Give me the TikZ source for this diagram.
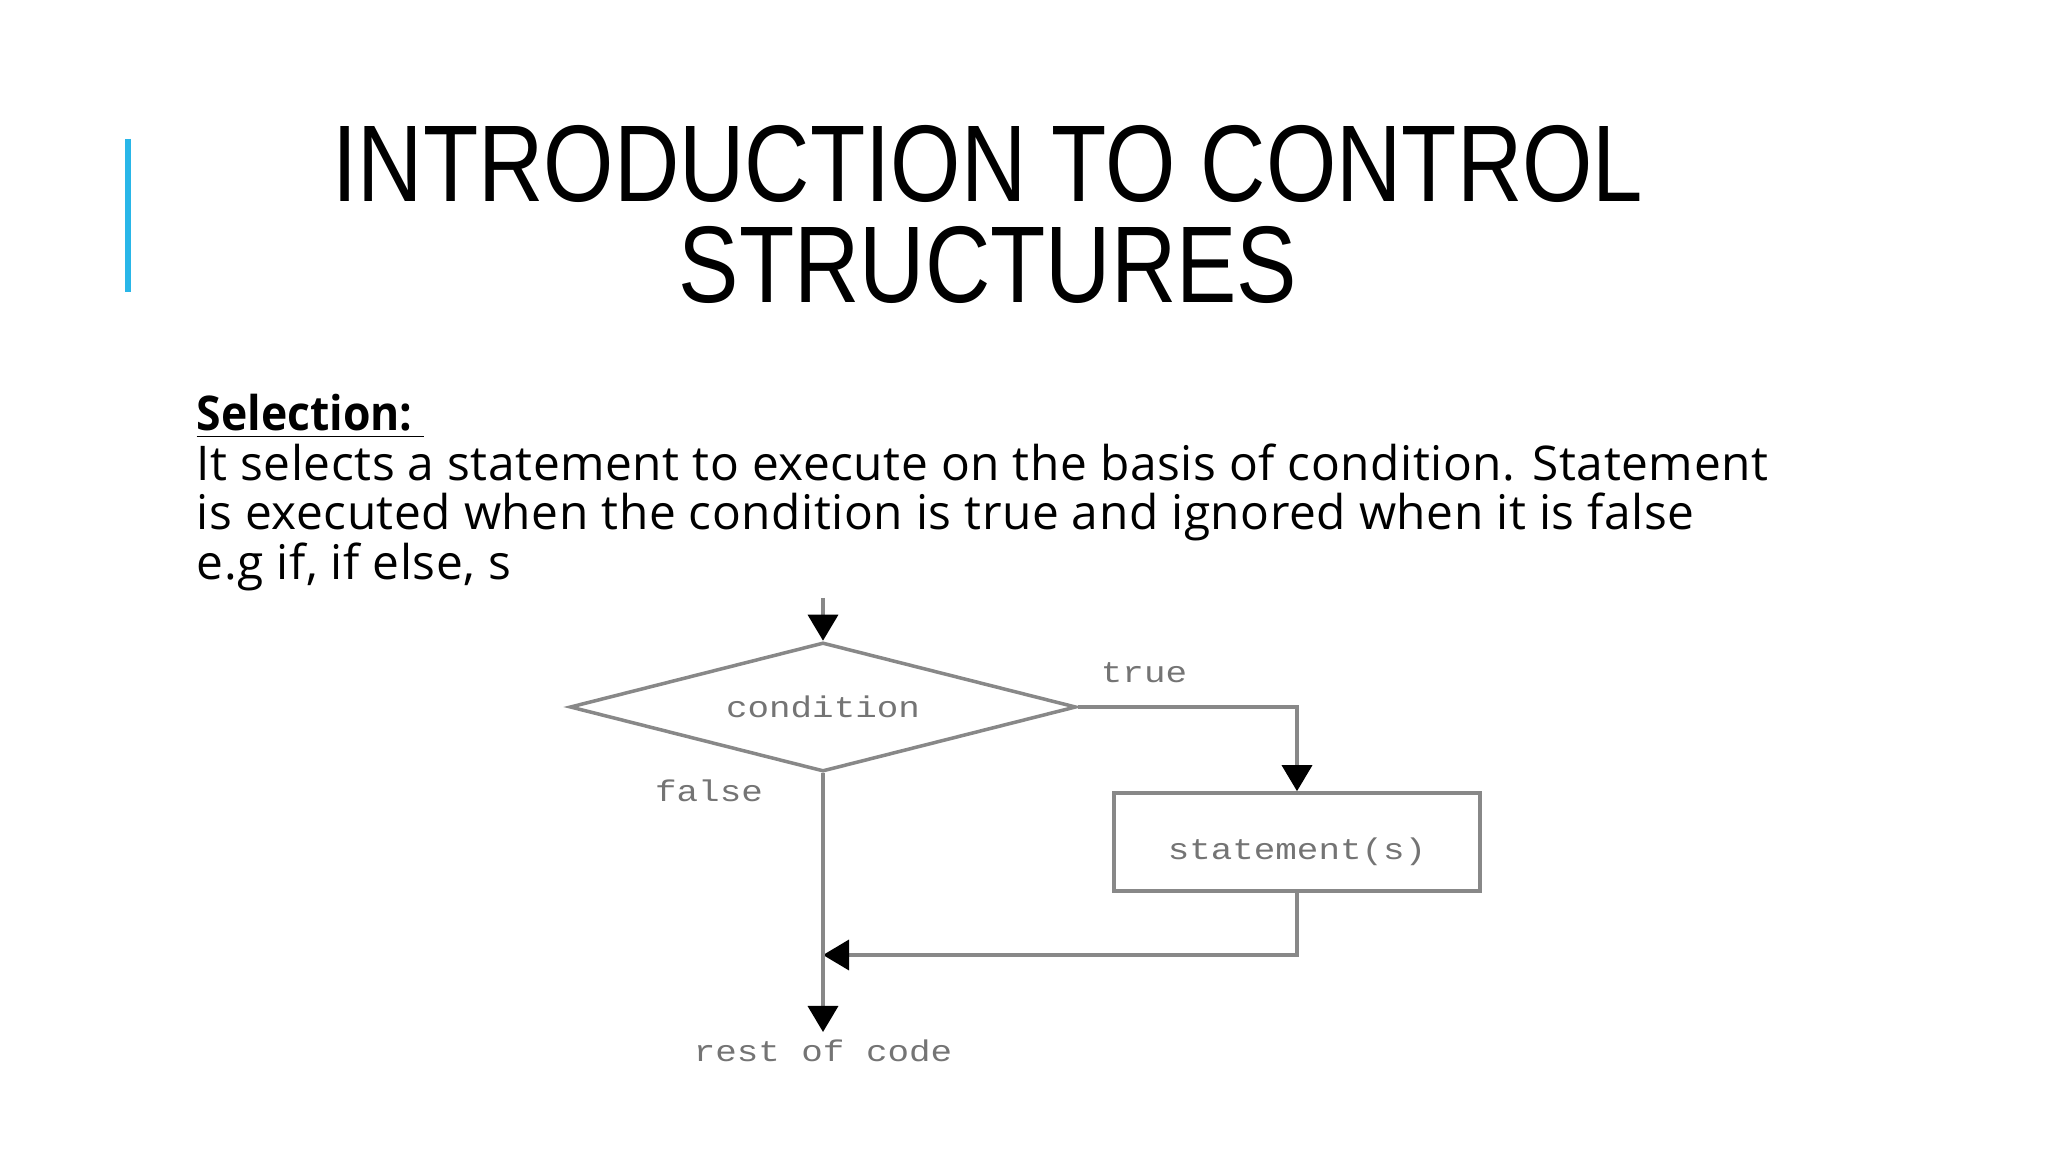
\documentclass[tikz,border=0pt]{standalone}
\usepackage{fontspec}
\usetikzlibrary{shapes.geometric,arrows.meta}
\newfontfamily\titlefont[FakeStretch=0.83]{Liberation Sans}
\newfontfamily\bodyfont[LetterSpace=1.2, BoldFeatures={LetterSpace=0, FakeStretch=0.93}]{Open Sans}
\newfontfamily\flowfont[FakeStretch=1.2]{Liberation Mono}
\definecolor{accentblue}{RGB}{41,182,232}
\definecolor{flowgray}{RGB}{136,136,136}
\begin{document}
\begin{tikzpicture}[x=0.01cm, y=-0.01cm,
    titletext/.style={font=\titlefont\fontsize{31}{31}\selectfont, anchor=base, inner sep=0pt},
    bodytext/.style={font=\bodyfont\fontsize{13.6}{16}\selectfont, anchor=base west, inner sep=0pt},
    flowtext/.style={font=\flowfont\fontsize{8.5}{10}\selectfont, text=flowgray!85!black},
    decision/.style={diamond, draw=flowgray, line width=1pt, minimum width=5.06cm, minimum height=1.29cm, aspect=3.9, inner sep=0pt, flowtext},
    stmtbox/.style={rectangle, draw=flowgray, line width=1pt, minimum width=3.66cm, minimum height=0.98cm, text height=0.4cm, text depth=0.06cm, flowtext},
    flowline/.style={draw=flowgray, line width=1pt},
    >={Triangle[width=3mm, length=2.6mm, color=black]}
  ]
  \fill[white] (0,0) rectangle (2048,1152);
  \useasboundingbox (0,0) rectangle (2048,1152);
  \draw[accentblue, line width=1.6pt] (128,139) -- (128,292);
  % title
  \node[titletext] (title1) at (988,202) {INTRODUCTION TO CONTROL};
  \node[titletext] (title2) at (988,303) {STRUCTURES};
  % text
  \node[bodytext] (sel) at (196,431) {\bfseries\underline{Selection:\ }};
  \node[bodytext] (line1) at (196,481) {It selects a statement to execute on the basis of condition. Statement};
  \node[bodytext] (line2) at (196,530) {is executed when the condition is true and ignored when it is false};
  \node[bodytext] (line3) at (196,580) {e.g if, if else, s};
  % flowchart
  \coordinate (entry) at (823,598);
  \node[decision] (cond) at (823,707) {condition};
  \node[stmtbox] (stmt) at (1297,842) {statement(s)};
  \coordinate (join) at (823,955);
  \coordinate (exit) at (823,1032);
  \node[flowtext] (rest) at (823,1051) {rest of code};
  \node[flowtext] (truelbl) at (1144,673) {true};
  \node[flowtext] (falselbl) at (709,791) {false};
  \draw[flowline, ->] (entry) -- (cond.north);
  \draw[flowline, ->] (cond.east) -| (stmt.north);
  \draw[flowline, ->] (stmt.south) |- (join);
  \draw[flowline, ->] (cond.south) -- (exit);
\end{tikzpicture}
\end{document}
